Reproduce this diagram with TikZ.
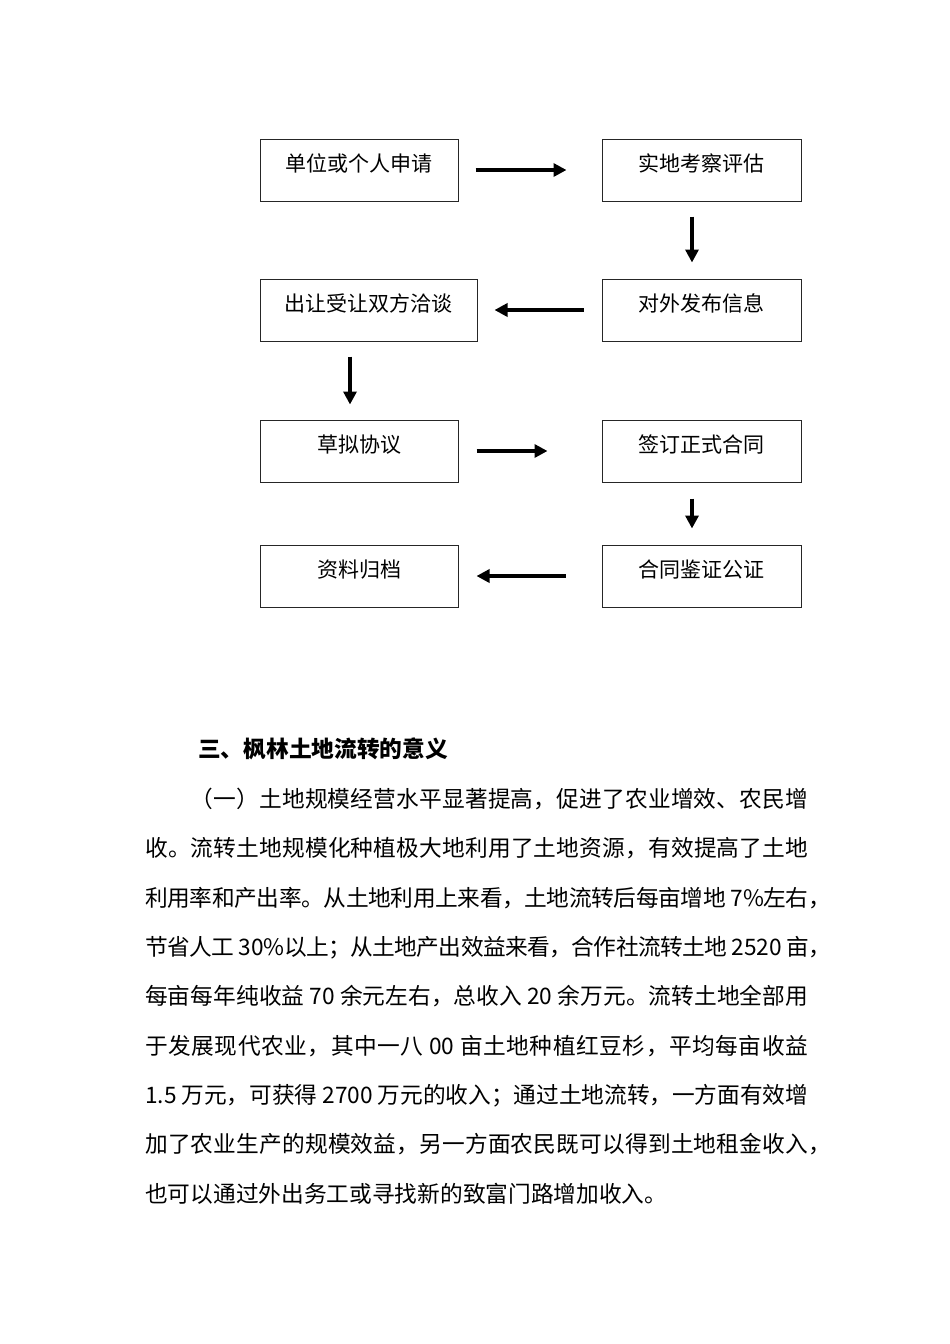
\documentclass[tikz,border=0pt]{standalone}
\usepackage{fontspec}
\newfontfamily\cjk{Noto Sans CJK SC}
\usetikzlibrary{arrows.meta}
% justified line: glue between every token (groups kept together)
\def\jg{\hskip 0pt plus 1fil minus 3pt\relax}
\def\jA#1{#1\jB}
\def\jB#1{\ifx\relax#1\else\jg#1\expandafter\jB\fi}
\newcommand\jline[2]{\hbox to #1{\jA#2\relax}}
\tikzset{
  box/.style={draw=black!85, line width=1pt, rectangle, inner sep=0pt,
    minimum height=62pt, text height=15pt, text depth=13pt,
    font=\cjk\fontsize{21pt}{21pt}\selectfont},
  flow/.style={line width=3.8pt, -{Triangle[length=13pt,width=13pt]}},
  para/.style={anchor=base west, inner sep=0pt, font=\cjk\fontsize{22.7pt}{22.7pt}\selectfont},
}
\begin{document}
\begin{tikzpicture}[x=1pt,y=-1pt]
\fill[white] (0,0) rectangle (950,1344);
\useasboundingbox (0,0) rectangle (950,1344);

% boxes
\node[box, minimum width=198pt] (b1) at (359,170) {单位或个人申请};
\node[box, minimum width=199pt] (b2) at (701.5,170) {实地考察评估};
\node[box, minimum width=199pt] (b3) at (701.5,310) {对外发布信息};
\node[box, minimum width=217pt] (b4) at (368.5,310) {出让受让双方洽谈};
\node[box, minimum width=198pt] (b5) at (359,451) {草拟协议};
\node[box, minimum width=199pt] (b6) at (701.5,451) {签订正式合同};
\node[box, minimum width=198pt] (b7) at (359,576) {资料归档};
\node[box, minimum width=199pt] (b8) at (701.5,576) {合同鉴证公证};

% connectors
\draw[flow, shorten <=17pt, shorten >=35pt] (b1.east) -- (b2.west);
\draw[flow, shorten <=15pt, shorten >=16pt] ([xshift=-9.5pt]b2.south) -- ([xshift=-9.5pt]b3.north);
\draw[flow, shorten <=18pt, shorten >=17pt] (b3.west) -- (b4.east);
\draw[flow, shorten <=15pt, shorten >=15pt] ([xshift=-18.5pt]b4.south) -- ([xshift=-9pt]b5.north);
\draw[flow, shorten <=18pt, shorten >=54pt] (b5.east) -- (b6.west);
\draw[flow, shorten <=16pt, shorten >=16pt] ([xshift=-9.5pt]b6.south) -- ([xshift=-9.5pt]b8.north);
\draw[flow, shorten <=36pt, shorten >=18pt] (b8.west) -- (b7.east);

% text
\node[para, font=\cjk\bfseries\fontsize{22.7pt}{22.7pt}\selectfont] (t0) at (198,757.6) {三、枫林土地流转的意义};
\node[para] (p1) at (190.5,807.6) {\jline{617.5pt}{（一）土地规模经营水平显著提高，促进了农业增效、农民增}};
\node[para] (p2) at (145,856.9) {\jline{663pt}{收。流转土地规模化种植极大地利用了土地资源，有效提高了土地}};
\node[para] (p3) at (145,906.2) {\jline{685.7pt}{利用率和产出率。从土地利用上来看，土地流转后每亩增地{ 7\%}左右，}};
\node[para] (p4) at (145,955.5) {\jline{685.7pt}{节省人工{ 30\%}以上；从土地产出效益来看，合作社流转土地{ 2520 }亩，}};
\node[para] (p5) at (145,1004.8) {\jline{663pt}{每亩每年纯收益{ 70 }余元左右，总收入{ 20 }余万元。流转土地全部用}};
\node[para] (p6) at (145,1054.1) {\jline{663pt}{于发展现代农业，其中一八{ 00 }亩土地种植红豆杉，平均每亩收益}};
\node[para] (p7) at (145,1103.4) {\jline{663pt}{{1.5 }万元，可获得{ 2700 }万元的收入；通过土地流转，一方面有效增}};
\node[para] (p8) at (145,1152.7) {\jline{685.7pt}{加了农业生产的规模效益，另一方面农民既可以得到土地租金收入，}};
\node[para] (p9) at (145,1202) {也可以通过外出务工或寻找新的致富门路增加收入。};
\end{tikzpicture}
\end{document}
